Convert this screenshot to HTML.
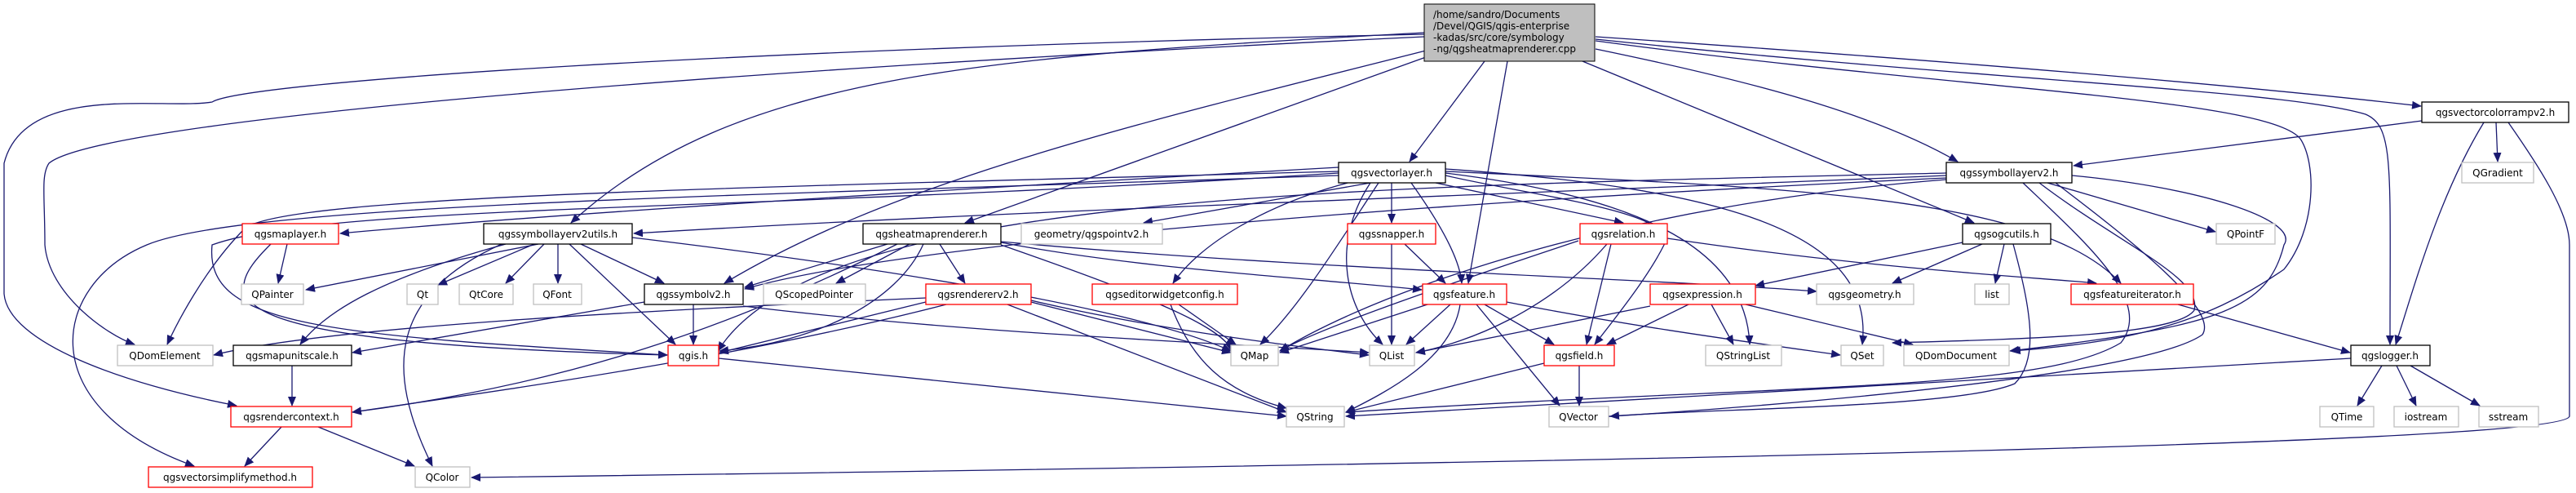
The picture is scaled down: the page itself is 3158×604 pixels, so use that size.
<!DOCTYPE html>
<html><head><meta charset="utf-8"><style>
html,body{margin:0;padding:0;background:#fff;}
svg{display:block;}
text{font-family:"DejaVu Sans","Liberation Sans",sans-serif;font-size:12px;fill:#000;}
.e{fill:none;stroke:#191970;stroke-width:1.3;}
</style></head><body>
<svg width="3158" height="604" viewBox="0 0 3158 604" xmlns="http://www.w3.org/2000/svg">
<defs>
<marker id="a" markerWidth="12" markerHeight="10" refX="11" refY="5" orient="auto" markerUnits="userSpaceOnUse">
<path d="M0,0 L12,5 L0,10 z" fill="#191970"/>
</marker>
</defs>
<g class="e" marker-end="url(#a)">
<!-- root edges -->
<path d="M1956,45 C2400,75 2750,105 2968,130"/>
<path d="M1956,60 C2150,100 2300,140 2400,198"/>
<path d="M1940,75 L2420,273"/>
<path d="M1956,48 C2450,100 2800,110 2900,140 C2935,155 2930,200 2930,422"/>
<path d="M1956,50 C2400,110 2780,120 2820,170 C2840,200 2840,280 2800,330 C2700,400 2600,420 2466,430"/>
<path d="M1820,75 L1728,198"/>
<path d="M1848,75 L1800,347"/>
<path d="M1748,70 L1183,273"/>
<path d="M1748,62 C1400,150 1100,220 888,347"/>
<path d="M1746,40 C1200,70 900,90 700,273"/>
<path d="M1746,45 C800,90 120,150 60,200 C50,215 55,240 55,300 C60,360 130,410 165,422"/>
<path d="M1746,42 C900,60 300,100 260,125 C200,135 30,100 5,200 L5,360 C10,420 150,470 290,497"/>
<!-- colorramp -->
<path d="M2969,148 L2542,203"/>
<path d="M3060,150 L3062,198"/>
<path d="M3045,150 C2990,240 2960,350 2937,422"/>
<path d="M3075,150 C3110,200 3150,260 3150,300 L3150,510 C3145,535 2500,560 578,585"/>
<!-- symbollayerv2 -->
<path d="M2510,224 L2716,284"/>
<path d="M2540,215 C2700,230 2820,270 2800,300 C2780,380 2720,400 2464,430"/>
<path d="M2500,224 C2600,300 2700,340 2690,380 C2670,410 2500,415 2320,420"/>
<path d="M2480,224 C2560,300 2640,370 2600,420 C2500,480 2200,470 1650,505"/>
<path d="M2520,224 C2620,300 2720,380 2700,410 C2600,480 1800,520 1974,510"/>
<path d="M2386,215 C1800,240 1200,260 777,286"/>
<path d="M2386,218 C1700,250 1100,300 913,354"/>
<path d="M2386,220 C2000,250 1700,350 1569,430"/>
<path d="M2386,212 C1600,230 1000,240 880,430"/>
<!-- vectorlayer -->
<path d="M1641,205 C1200,230 700,260 417,286"/>
<path d="M1641,210 C900,230 350,240 300,280 C250,330 215,400 205,422"/>
<path d="M1641,215 C900,240 300,250 180,300 C60,350 40,500 238,571"/>
<path d="M1641,212 C900,260 400,250 260,300 C250,400 400,410 818,435"/>
<path d="M1680,224 L1402,273"/>
<path d="M1706,224 L1706,273"/>
<path d="M1760,224 L1990,273"/>
<path d="M1730,224 C1770,280 1790,320 1792,347"/>
<path d="M1690,224 C1640,300 1590,380 1545,422"/>
<path d="M1680,224 C1630,300 1650,380 1695,422"/>
<path d="M1660,222 C1550,250 1470,300 1438,347"/>
<path d="M1772,215 C1880,240 2060,260 2040,300 C2020,340 1980,390 1955,422"/>
<path d="M1772,212 C2000,240 2140,300 2145,422"/>
<path d="M1772,210 C2200,230 2500,240 2600,347"/>
<path d="M1772,207 C2100,230 2300,280 2283,422"/>
<!-- symbollayerv2utils -->
<path d="M660,299 L375,355"/>
<path d="M655,299 L537,349"/>
<path d="M667,299 L620,347"/>
<path d="M684,299 L684,347"/>
<path d="M712,299 L814,347"/>
<path d="M698,299 L828,422"/>
<path d="M620,299 C470,340 400,380 368,422"/>
<path d="M615,299 C480,360 470,450 530,571"/>
<path d="M775,291 C1100,330 1400,380 1509,430"/>
<!-- maplayer -->
<path d="M352,299 L341,347"/>
<path d="M332,299 C260,370 260,420 818,435"/>
<!-- heatmaprenderer -->
<path d="M1115,299 L1025,347"/>
<path d="M1088,299 L913,352"/>
<path d="M1152,299 L1183,347"/>
<path d="M1132,299 C1100,370 1000,420 882,430"/>
<path d="M1227,297 C1400,330 1600,340 1743,355"/>
<path d="M1227,296 C1600,330 2000,340 2227,357"/>
<path d="M1100,299 C900,400 700,470 432,505"/>
<path d="M1227,300 C1400,360 1500,400 1510,430"/>
<!-- symbolv2 -->
<path d="M850,373 L850,422"/>
<path d="M790,370 L432,432"/>
<path d="M911,375 C1200,410 1500,420 1678,432"/>
<!-- rendererv2 -->
<path d="M1135,370 L882,432"/>
<path d="M1160,373 C900,440 600,480 432,505"/>
<path d="M1135,365 C800,380 400,400 262,435"/>
<path d="M1264,370 L1509,432"/>
<path d="M1264,368 C1400,400 1550,420 1678,435"/>
<path d="M1235,373 L1577,505"/>
<!-- editorwidgetconfig -->
<path d="M1445,373 L1515,422"/>
<path d="M1435,373 C1460,440 1500,480 1577,500"/>
<!-- snapper -->
<path d="M1706,299 L1706,422"/>
<path d="M1722,299 L1772,347"/>
<!-- relation -->
<path d="M1975,299 L1945,422"/>
<path d="M1970,299 C1900,380 1800,420 1736,432"/>
<path d="M2044,292 C2300,330 2500,340 2570,347"/>
<path d="M1935,295 C1800,340 1620,400 1569,430"/>
<!-- feature -->
<path d="M1750,373 L1569,432"/>
<path d="M1778,373 L1724,422"/>
<path d="M1790,373 C1780,440 1700,480 1650,505"/>
<path d="M1820,373 L1905,422"/>
<path d="M1810,373 L1912,497"/>
<path d="M1847,370 C2000,400 2150,420 2256,435"/>
<!-- expression -->
<path d="M2070,373 L1970,422"/>
<path d="M2023,375 C1900,400 1800,420 1736,432"/>
<path d="M2098,373 L2125,422"/>
<path d="M2140,373 L2345,422"/>
<!-- field -->
<path d="M1936,448 L1936,497"/>
<path d="M1893,445 L1650,505"/>
<!-- ogcutils -->
<path d="M2406,297 L2152,350"/>
<path d="M2430,299 L2320,347"/>
<path d="M2457,299 L2446,347"/>
<path d="M2468,299 C2490,380 2500,440 2470,470 C2400,500 2100,500 1974,510"/>
<!-- featureiterator -->
<path d="M2670,373 L2881,432"/>
<!-- logger -->
<path d="M2882,439 C2400,470 2000,490 1650,510"/>
<path d="M2920,448 L2890,497"/>
<path d="M2938,448 L2962,497"/>
<path d="M2955,448 L3040,497"/>
<!-- others -->
<path d="M358,448 L358,497"/>
<path d="M345,523 L300,571"/>
<path d="M390,523 L508,571"/>
<path d="M881,439 L1577,510"/>
</g>
<g stroke-width="1">
<rect x="1746" y="5" width="209" height="70" fill="#bfbfbf" stroke="#000"/>
</g>
<text x="1757" y="22">/home/sandro/Documents</text>
<text x="1757" y="36">/Devel/QGIS/qgis-enterprise</text>
<text x="1757" y="50">-kadas/src/core/symbology</text>
<text x="1757" y="64">-ng/qgsheatmaprenderer.cpp</text>
<g fill="#fff" stroke-width="1.3">
<!-- black -->
<g stroke="#000">
<rect x="2969" y="125" width="180" height="25"/>
<rect x="1641" y="199" width="131" height="25"/>
<rect x="2386" y="199" width="154" height="25"/>
<rect x="593" y="274" width="182" height="25"/>
<rect x="1058" y="274" width="169" height="25"/>
<rect x="2406" y="274" width="108" height="25"/>
<rect x="790" y="348" width="121" height="25"/>
<rect x="286" y="423" width="145" height="25"/>
<rect x="2882" y="423" width="97" height="25"/>
</g>
<g stroke="#ff0000">
<rect x="297" y="274" width="118" height="25"/>
<rect x="1652" y="274" width="108" height="25"/>
<rect x="1937" y="274" width="107" height="25"/>
<rect x="1135" y="348" width="129" height="25"/>
<rect x="1339" y="348" width="178" height="25"/>
<rect x="1744" y="348" width="103" height="25"/>
<rect x="2023" y="348" width="129" height="25"/>
<rect x="2539" y="348" width="150" height="25"/>
<rect x="819" y="423" width="62" height="25"/>
<rect x="1893" y="423" width="86" height="25"/>
<rect x="283" y="498" width="148" height="25"/>
<rect x="182" y="572" width="201" height="25"/>
</g>
<g stroke="#bfbfbf">
<rect x="3018" y="199" width="88" height="25"/>
<rect x="1252" y="274" width="173" height="25"/>
<rect x="2717" y="274" width="72" height="25"/>
<rect x="296" y="348" width="76" height="25"/>
<rect x="499" y="348" width="38" height="25"/>
<rect x="563" y="348" width="66" height="25"/>
<rect x="654" y="348" width="59" height="25"/>
<rect x="936" y="348" width="125" height="25"/>
<rect x="2227" y="348" width="119" height="25"/>
<rect x="2421" y="348" width="42" height="25"/>
<rect x="144" y="423" width="117" height="25"/>
<rect x="1509" y="423" width="58" height="25"/>
<rect x="1679" y="423" width="55" height="25"/>
<rect x="2091" y="423" width="93" height="25"/>
<rect x="2257" y="423" width="52" height="25"/>
<rect x="2334" y="423" width="129" height="25"/>
<rect x="1577" y="498" width="71" height="25"/>
<rect x="1899" y="498" width="73" height="25"/>
<rect x="2844" y="498" width="66" height="25"/>
<rect x="2935" y="498" width="79" height="25"/>
<rect x="3039" y="498" width="73" height="25"/>
<rect x="509" y="572" width="67" height="25"/>
</g>
</g>
<g text-anchor="middle">
<text x="3059" y="142">qgsvectorcolorrampv2.h</text>
<text x="1706" y="216">qgsvectorlayer.h</text>
<text x="2463" y="216">qgssymbollayerv2.h</text>
<text x="3062" y="216">QGradient</text>
<text x="356" y="291">qgsmaplayer.h</text>
<text x="684" y="291">qgssymbollayerv2utils.h</text>
<text x="1142" y="291">qgsheatmaprenderer.h</text>
<text x="1338" y="291">geometry/qgspointv2.h</text>
<text x="1706" y="291">qgssnapper.h</text>
<text x="1990" y="291">qgsrelation.h</text>
<text x="2460" y="291">qgsogcutils.h</text>
<text x="2753" y="291">QPointF</text>
<text x="334" y="365">QPainter</text>
<text x="518" y="365">Qt</text>
<text x="596" y="365">QtCore</text>
<text x="683" y="365">QFont</text>
<text x="850" y="365">qgssymbolv2.h</text>
<text x="998" y="365">QScopedPointer</text>
<text x="1199" y="365">qgsrendererv2.h</text>
<text x="1428" y="365">qgseditorwidgetconfig.h</text>
<text x="1795" y="365">qgsfeature.h</text>
<text x="2087" y="365">qgsexpression.h</text>
<text x="2286" y="365">qgsgeometry.h</text>
<text x="2442" y="365">list</text>
<text x="2614" y="365">qgsfeatureiterator.h</text>
<text x="202" y="440">QDomElement</text>
<text x="358" y="440">qgsmapunitscale.h</text>
<text x="850" y="440">qgis.h</text>
<text x="1538" y="440">QMap</text>
<text x="1706" y="440">QList</text>
<text x="1936" y="440">qgsfield.h</text>
<text x="2137" y="440">QStringList</text>
<text x="2283" y="440">QSet</text>
<text x="2398" y="440">QDomDocument</text>
<text x="2930" y="440">qgslogger.h</text>
<text x="357" y="515">qgsrendercontext.h</text>
<text x="1612" y="515">QString</text>
<text x="1935" y="515">QVector</text>
<text x="2877" y="515">QTime</text>
<text x="2974" y="515">iostream</text>
<text x="3075" y="515">sstream</text>
<text x="282" y="589">qgsvectorsimplifymethod.h</text>
<text x="542" y="589">QColor</text>
</g>
</svg>
</body></html>
